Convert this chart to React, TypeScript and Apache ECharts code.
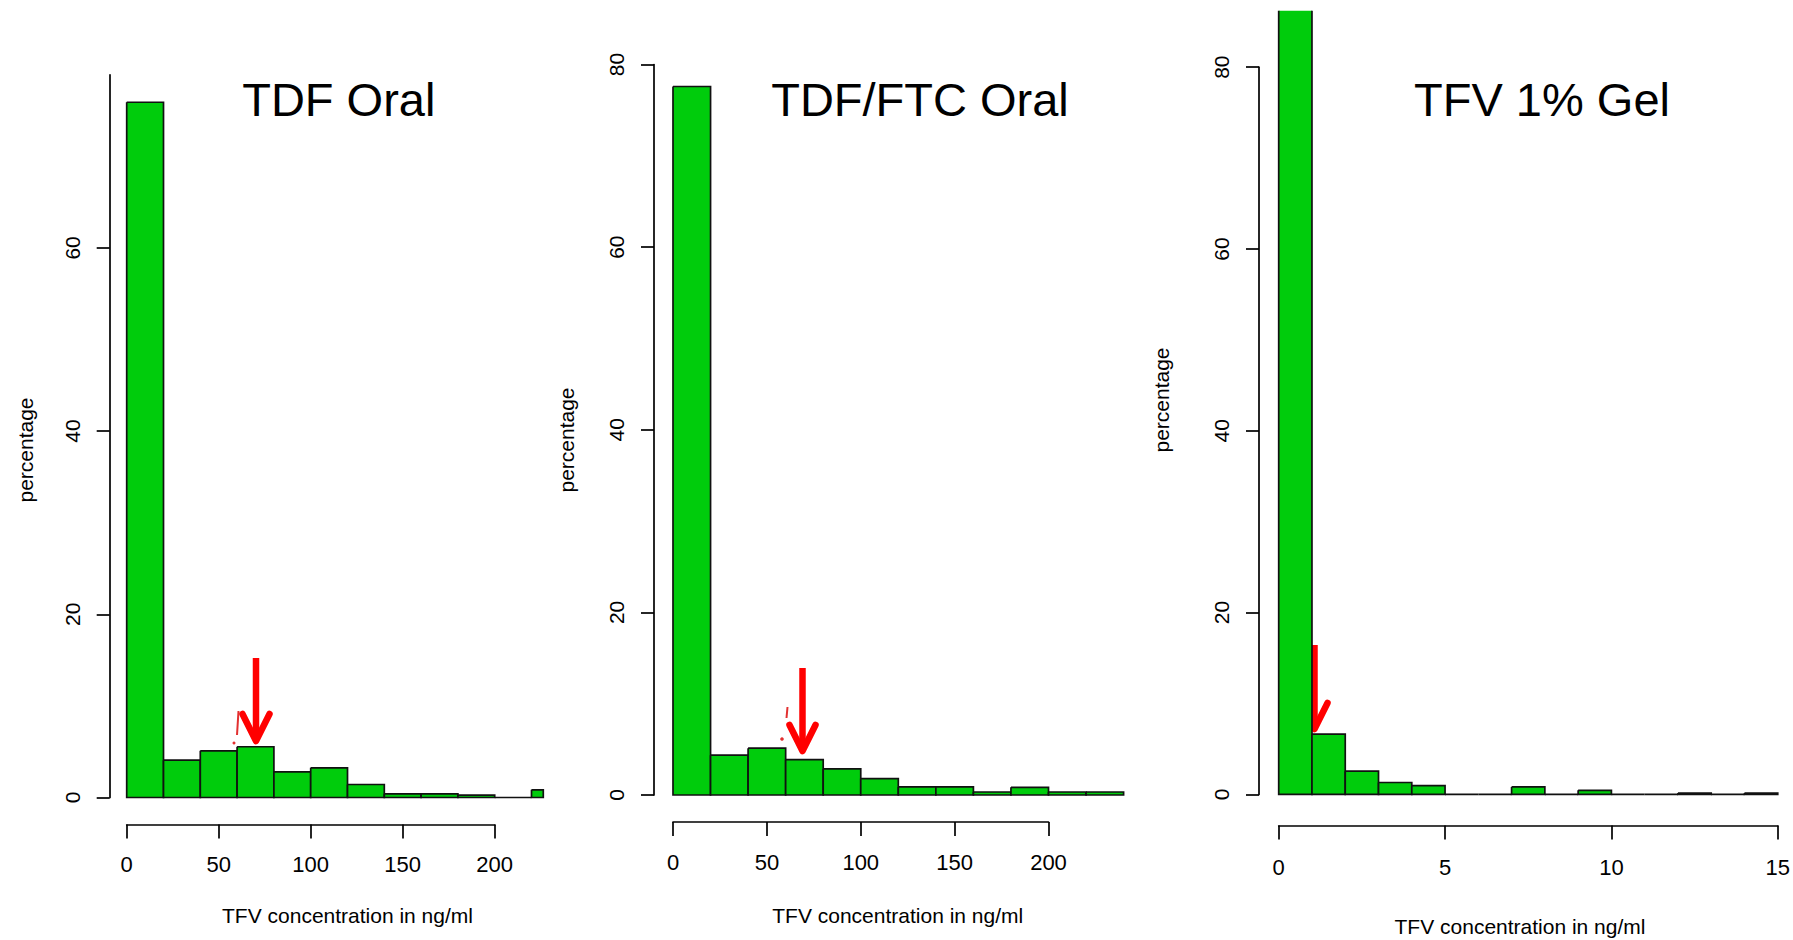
import React, { useEffect, useRef } from "react";
import * as echarts from "echarts";

// ---------- data ----------
const panelTitles = ["TDF Oral", "TDF/FTC Oral", "TFV 1% Gel"];
const xAxisTitle = "TFV concentration in ng/ml";
const yAxisTitle = "percentage";

// bins of 20 ng/ml for the two oral arms
const oralBinEdges = [0, 20, 40, 60, 80, 100, 120, 140, 160, 180, 200, 220, 240];
const tdfOralPct = [75.9, 4.08, 5.1, 5.54, 2.8, 3.24, 1.42, 0.4, 0.4, 0.25, 0, 0.84];
const tdfFtcOralPct = [77.6, 4.36, 5.13, 3.88, 2.86, 1.8, 0.88, 0.88, 0.33, 0.84, 0.33, 0.33];

// bins of 1 ng/ml for the gel arm
const gelBinEdges = [0, 1, 2, 3, 4, 5, 6, 7, 8, 9, 10, 11, 12, 13, 14, 15];
const gelPct = [88, 6.63, 2.55, 1.31, 0.97, 0, 0, 0.82, 0, 0.45, 0, 0, 0.15, 0, 0.15];

const oralXTicks = [0, 50, 100, 150, 200];
const gelXTicks = [0, 5, 10, 15];
const yTicksShort = [0, 20, 40, 60];
const yTicksFull = [0, 20, 40, 60, 80];

// ---------- layout / style ----------
const FONT = "'Liberation Sans', Arial, Helvetica, sans-serif";
const GREEN = "#00cc0c";
const RED = "#ff0000";

type Panel = {
  edges: number[];
  values: number[];
  xTicks: number[];
  yTicks: number[];
  x0: number; xUnit: number; xMax: number;
  y0: number; yUnit: number; plotYMax: number; axisYMax: number;
  yAxisOffset: number; xAxisOffset: number; xLabelMargin: number;
  title: [number, number];
  xTitle: [number, number];
  yTitle: [number, number];
};

const panels: Panel[] = [
  {
    edges: oralBinEdges, values: tdfOralPct, xTicks: oralXTicks, yTicks: yTicksShort,
    x0: 126.7, xUnit: 1.84, xMax: 226.4, y0: 797.5, yUnit: 9.16, plotYMax: 78.9, axisYMax: 78.9,
    yAxisOffset: 17, xAxisOffset: 27, xLabelMargin: 29,
    title: [338.8, 99], xTitle: [347.5, 915], yTitle: [25, 450],
  },
  {
    edges: oralBinEdges, values: tdfFtcOralPct, xTicks: oralXTicks, yTicks: yTicksFull,
    x0: 673, xUnit: 1.8775, xMax: 240, y0: 795, yUnit: 9.13, plotYMax: 80, axisYMax: 80,
    yAxisOffset: 19, xAxisOffset: 27, xLabelMargin: 29,
    title: [920, 99], xTitle: [897.7, 915], yTitle: [566, 440],
  },
  {
    edges: gelBinEdges, values: gelPct, xTicks: gelXTicks, yTicks: yTicksFull,
    x0: 1278.7, xUnit: 33.27, xMax: 15, y0: 794.4, yUnit: 9.09, plotYMax: 86.2, axisYMax: 80,
    yAxisOffset: 19.7, xAxisOffset: 31, xLabelMargin: 31,
    title: [1542, 99], xTitle: [1520, 926], yTitle: [1161, 400],
  },
];

const renderBar = (params: any, api: any) => {
  const a = api.value(0);
  const b = api.value(1);
  const v = api.value(2);
  const p0 = api.coord([a, 0]);
  const p1 = api.coord([b, v]);
  const cs = params.coordSys;
  const raw = { x: p0[0], y: p1[1], width: p1[0] - p0[0], height: p0[1] - p1[1] };
  const clipped = echarts.graphic.clipRectByRect(raw, {
    x: cs.x, y: cs.y, width: cs.width, height: cs.height,
  });
  if (!clipped) return null;
  const topCut = clipped.y > raw.y + 0.5;
  const left = clipped.x;
  const right = clipped.x + clipped.width;
  const top = clipped.y;
  const bottom = clipped.y + clipped.height;
  const outline = topCut
    ? [[left, top], [left, bottom], [right, bottom], [right, top]]
    : [[left, top], [left, bottom], [right, bottom], [right, top], [left, top]];
  return {
    type: "group",
    children: [
      { type: "rect", shape: clipped, style: { fill: GREEN } },
      {
        type: "polyline",
        shape: { points: outline },
        style: { stroke: "#111", lineWidth: 1.7, fill: "none" },
      },
    ],
  };
};

function buildOption() {
  const grids: any[] = [];
  const xAxes: any[] = [];
  const yAxes: any[] = [];
  const series: any[] = [];
  const graphics: any[] = [];
  const lineStyle = { color: "#000", width: 1.7 };

  // 1) plotting regions (bars)
  panels.forEach((p, i) => {
    const gi = grids.length;
    grids.push({
      left: p.x0,
      top: p.y0 - p.plotYMax * p.yUnit,
      width: p.xMax * p.xUnit,
      height: p.plotYMax * p.yUnit,
      containLabel: false,
    });
    const xi = xAxes.length;
    xAxes.push({ type: "value", gridIndex: gi, min: 0, max: p.xMax, show: false });
    const yi = yAxes.length;
    yAxes.push({ type: "value", gridIndex: gi, min: 0, max: p.plotYMax, show: false });
    series.push({
      type: "custom",
      xAxisIndex: xi,
      yAxisIndex: yi,
      renderItem: renderBar,
      encode: { x: [0, 1], y: 2 },
      data: p.values.map((v, k) => [p.edges[k], p.edges[k + 1], v]),
      silent: true,
    });
    graphics.push({
      type: "text", x: p.title[0], y: p.title[1],
      style: { text: panelTitles[i], fontSize: 47, fontFamily: FONT, fill: "#000", align: "center", verticalAlign: "middle" },
    });
    graphics.push({
      type: "text", x: p.xTitle[0], y: p.xTitle[1],
      style: { text: xAxisTitle, fontSize: 21, fontFamily: FONT, fill: "#000", align: "center", verticalAlign: "middle" },
    });
    graphics.push({
      type: "text", x: p.yTitle[0], y: p.yTitle[1], rotation: Math.PI / 2,
      style: { text: yAxisTitle, fontSize: 21, fontFamily: FONT, fill: "#000", align: "center", verticalAlign: "middle" },
    });
  });

  // 2) detached x axes (R style: line from first to last tick, below the plot)
  panels.forEach((p) => {
    const xTickMax = p.xTicks[p.xTicks.length - 1];
    const xInterval = p.xTicks[1] - p.xTicks[0];
    const lineY = p.y0 + p.xAxisOffset;
    const gi = grids.length;
    grids.push({ left: p.x0, top: lineY - 10, width: xTickMax * p.xUnit, height: 10, containLabel: false });
    xAxes.push({
      type: "value", gridIndex: gi, min: 0, max: xTickMax, interval: xInterval,
      position: "bottom",
      splitLine: { show: false },
      axisLine: { show: true, onZero: false, lineStyle },
      axisTick: { show: true, inside: false, length: 14, lineStyle },
      axisLabel: { show: true, margin: p.xLabelMargin, fontSize: 22, fontFamily: FONT, color: "#000" },
    });
    yAxes.push({ type: "value", gridIndex: gi, min: 0, max: 1, show: false });
  });

  // 3) detached y axes
  panels.forEach((p) => {
    const lineX = p.x0 - p.yAxisOffset;
    const gi = grids.length;
    grids.push({ left: lineX, top: p.y0 - p.axisYMax * p.yUnit, width: 10, height: p.axisYMax * p.yUnit, containLabel: false });
    xAxes.push({ type: "value", gridIndex: gi, min: 0, max: 1, show: false });
    yAxes.push({
      type: "value", gridIndex: gi, min: 0, max: p.axisYMax, interval: 20,
      position: "left",
      splitLine: { show: false },
      axisLine: { show: true, onZero: false, lineStyle },
      axisTick: { show: true, inside: false, length: 13, lineStyle, customValues: p.yTicks },
      axisLabel: { show: true, margin: 27, fontSize: 21, fontFamily: FONT, color: "#000", rotate: 90, customValues: p.yTicks },
    });
  });

  // red annotation arrows
  const arrows = [
    { x: 256, top: 658, tip: 741, wing: 13.5, wingY: 714 },
    { x: 802.5, top: 668, tip: 751, wing: 13, wingY: 725 },
    { x: 1314.5, top: 645, tip: 729, wing: 13, wingY: 703 },
  ];
  arrows.forEach((a) => {
    graphics.push({ type: "line", shape: { x1: a.x, y1: a.top, x2: a.x, y2: a.tip - 4 }, style: { stroke: RED, lineWidth: 6.5 } });
    graphics.push({
      type: "polyline",
      shape: { points: [[a.x - a.wing, a.wingY], [a.x, a.tip], [a.x + a.wing, a.wingY]] },
      style: { stroke: RED, lineWidth: 6.5, fill: "none", lineCap: "round", lineJoin: "round" },
    });
  });
  // small red remnants next to the arrows
  graphics.push({ type: "line", shape: { x1: 238.5, y1: 711, x2: 237, y2: 735 }, style: { stroke: "#e23030", lineWidth: 2 } });
  graphics.push({ type: "circle", shape: { cx: 234, cy: 743, r: 1.5 }, style: { fill: "#e23030" } });
  graphics.push({ type: "line", shape: { x1: 787.5, y1: 707, x2: 786.5, y2: 718 }, style: { stroke: "#e23030", lineWidth: 2 } });
  graphics.push({ type: "circle", shape: { cx: 782, cy: 739, r: 1.8 }, style: { fill: "#e23030" } });

  return {
    animation: false,
    backgroundColor: "#fff",
    grid: grids,
    xAxis: xAxes,
    yAxis: yAxes,
    series,
    graphic: graphics,
  };
}

export default function App() {
  const ref = useRef<HTMLDivElement>(null);
  useEffect(() => {
    if (!ref.current) return;
    const chart = echarts.init(ref.current, null, { renderer: "svg", width: 1793, height: 940 });
    chart.setOption(buildOption() as any);
    return () => chart.dispose();
  }, []);
  return (
    <div
      ref={ref}
      style={{ position: "fixed", left: 0, top: 0, width: 1793, height: 940, background: "#fff" }}
    />
  );
}
